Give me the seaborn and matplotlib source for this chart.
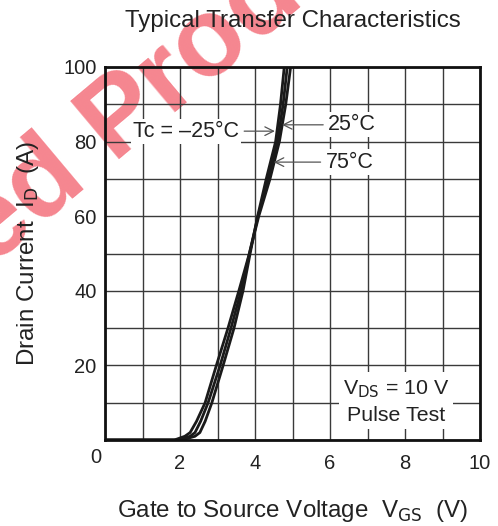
import numpy as np
import pandas as pd
import matplotlib
matplotlib.use("Agg")
import matplotlib.pyplot as plt
import seaborn as sns

temps = ["-25", "25", "75"]
id_pts = [0, 0, 1, 2, 5, 10, 20, 30, 40, 50, 60, 70, 80, 90, 100]
vgs_m25 = [0, 2.05, 2.40, 2.53, 2.67, 2.85, 3.15, 3.44, 3.68, 3.87, 4.07, 4.30, 4.55, 4.68, 4.78]
vgs_25 = [0, 1.95, 2.27, 2.40, 2.55, 2.75, 3.07, 3.36, 3.63, 3.85, 4.08, 4.35, 4.60, 4.75, 4.86]
vgs_75 = [0, 1.85, 2.13, 2.27, 2.44, 2.67, 2.97, 3.28, 3.57, 3.85, 4.10, 4.40, 4.65, 4.82, 4.95]

xtick_labels = ["", "", "2", "", "4", "", "6", "", "8", "", "10"]
ytick_labels = ["", "", "20", "", "40", "", "60", "", "80", "", "100"]

rows = []
for t, v in zip(temps, [vgs_m25, vgs_25, vgs_75]):
    for x, y in zip(v, id_pts):
        rows.append({"temp": t, "vgs": x, "id": y})
df = pd.DataFrame(rows)

sns.set_theme(style="white")
plt.rcParams["font.family"] = ["Liberation Sans", "DejaVu Sans"]

fig = plt.figure(figsize=(4.98, 5.26), dpi=100)
ax = fig.add_axes([105 / 498, 1 - 440 / 526, 375 / 498, 373 / 526])
ax.set_facecolor("none")

# watermark behind the chart
wm = dict(fontsize=80, fontweight="bold", color="#ee2233", alpha=0.55,
          rotation=40, rotation_mode="anchor", va="baseline", zorder=-1)
fig.text(89 / 498, 1 - 179 / 526, "Discontinued", ha="right", **wm)
fig.text(112 / 498, 1 - 159 / 526, "Product", ha="left", **wm)

sns.lineplot(data=df, x="vgs", y="id", hue="temp", units="temp", estimator=None,
             sort=False, palette=["#1a1a1a"] * 3, linewidth=2.0, legend=False, ax=ax)

ax.set_xlim(0, 10)
ax.set_ylim(0, 100)
ax.set_xticks(range(0, 11))
ax.set_yticks(range(0, 101, 10))
ax.set_xticklabels(xtick_labels)
ax.set_yticklabels(ytick_labels)
ax.tick_params(length=0, labelsize=14.5, colors="#222222", pad=6)
ax.tick_params(axis="x", pad=10)
ax.grid(True, color="#3a3a3a", linewidth=1.0)
for s in ax.spines.values():
    s.set_color("#111111")
    s.set_linewidth(2)
ax.text(-0.024, -0.022, "0", transform=ax.transAxes, ha="center", va="top",
        fontsize=14.5, color="#222222")

ax.set_title("Typical Transfer Characteristics", fontsize=17.4, color="#222222", pad=29)
ax.set_xlabel("Gate to Source Voltage  V$_{\\rm GS}$  (V)", fontsize=17.4,
              color="#222222", labelpad=18)
ax.set_ylabel("Drain Current  I$_{\\rm D}$  (A)", fontsize=17.4, color="#222222",
              labelpad=16)

box = dict(boxstyle="square,pad=0.1", fc="white", ec="none")
arr = dict(arrowstyle="->", color="#555555", lw=0.9, shrinkA=2, shrinkB=0)
ax.annotate("Tc = \u201325\u00b0C", xy=(4.53, 82.8), xytext=(3.58, 82.8),
            ha="right", va="center", fontsize=15.5, color="#222222", bbox=box,
            arrowprops=arr)
ax.annotate("25\u00b0C", xy=(4.72, 84.5), xytext=(5.95, 84.5), ha="left", va="center",
            fontsize=15.5, color="#222222", bbox=box, arrowprops=arr)
ax.annotate("75\u00b0C", xy=(4.5, 74.5), xytext=(5.88, 74.5), ha="left", va="center",
            fontsize=15.5, color="#222222", bbox=box, arrowprops=arr)
ax.text(7.76, 10.3, "V$_{\\rm DS}$ = 10 V\nPulse Test", ha="center", va="center",
        fontsize=15.4, color="#222222", linespacing=1.4,
        bbox=dict(boxstyle="square,pad=0.2", fc="white", ec="none"))

fig.savefig("out.png", dpi=100)
